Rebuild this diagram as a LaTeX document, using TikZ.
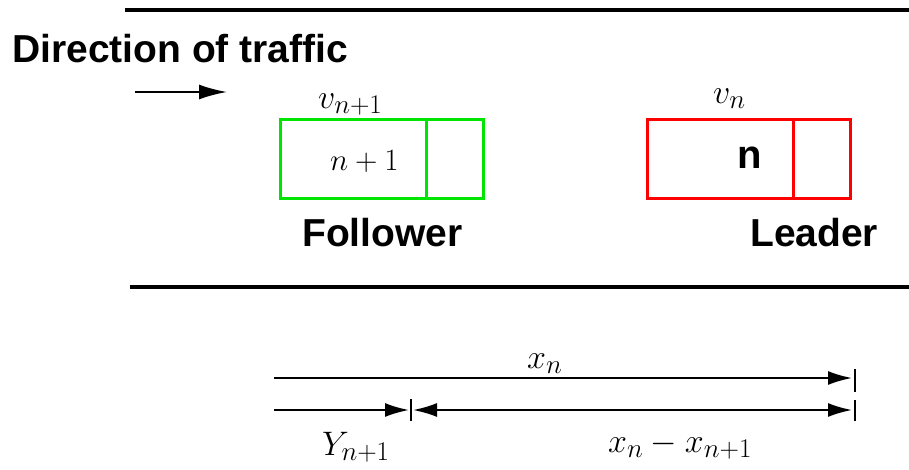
\RequirePackage{fix-cm}
\documentclass[tikz,border=0pt]{standalone}
\usepackage{fontspec}
\setsansfont{Liberation Sans}
\usepackage{tikz}
\usetikzlibrary{arrows.meta,positioning}
% larger scripts for the labels
\DeclareMathSizes{34}{34}{27}{21}
\DeclareMathSizes{31}{31}{25}{19}

\begin{document}
\begin{tikzpicture}[x=1pt, y=-1pt,
  road/.style={line width=4.5pt},
  carbody/.style={draw, line width=3pt, minimum width=146pt, minimum height=79pt, outer sep=0pt},
  carcab/.style={draw, line width=3pt, minimum width=57pt, minimum height=79pt, outer sep=0pt},
  tag/.style={font=\fontsize{39}{46}\selectfont\sffamily\bfseries, inner sep=0pt},
  sym/.style={font=\fontsize{34}{40}\selectfont, inner sep=0pt},
  dim/.style={line width=2pt, -{Latex[length=24pt,width=14pt]}},
  dimtick/.style={line width=1.5pt}
]
\useasboundingbox (0,0) rectangle (909,469);

% road edges
\coordinate (topl) at (125,10);
\coordinate (topr) at (909,10);
\coordinate (botl) at (130,287);
\coordinate (botr) at (909,287);
\draw[road] (topl) -- (topr);
\draw[road, line width=4pt] (botl) -- (botr);

\node[tag, anchor=base west] (dir) at (12,62) {Direction of traffic};
\coordinate (dirs) at (135,92);
\coordinate (dire) at (227,92);
\draw[line width=2pt, -{Latex[length=28pt,width=15pt]}] (dirs) -- (dire);

% follower car
\node[carbody, draw=green!90!black] (fbody) at (353,158.5) {};
\node[carcab, draw=green!90!black, right=0pt of fbody] (fcab) {};
\node[sym, font=\fontsize{31}{36}\selectfont, anchor=base west] (fnum) at (330,170) {$n+1$};
\node[sym, anchor=base west] (fvel) at (318,108) {$v_{n+1}$};
\node[tag, anchor=base west] (ftag) at (302,246) {Follower};

% leader car
\node[carbody, draw=red] (lbody) at (720.5,158.5) {};
\node[carcab, draw=red, right=0pt of lbody] (lcab) {};
\node[tag, font=\fontsize{40}{46}\selectfont\sffamily\bfseries, anchor=base west] (lnum) at (737,168) {n};
\node[sym, anchor=base west] (lvel) at (713,103) {$v_n$};
\node[tag, anchor=base west] (ltag) at (750,246) {Leader};

% spacing measures
\coordinate (xs) at (274,378);
\coordinate (xe) at (852,378);
\coordinate (ys) at (274,410);
\coordinate (ye) at (409,410);
\coordinate (gs) at (413,410);
\coordinate (ge) at (852,410);
\draw[dim] (xs) -- (xe);
\draw[dim] (ys) -- (ye);
\draw[dim, {Latex[length=24pt,width=14pt]}-{Latex[length=24pt,width=14pt]}] (gs) -- (ge);

\coordinate (t1a) at (855,369);
\coordinate (t1b) at (855,392);
\coordinate (t2a) at (855,400);
\coordinate (t2b) at (855,421);
\coordinate (t3a) at (411,399);
\coordinate (t3b) at (411,421);
\draw[dimtick] (t1a) -- (t1b);
\draw[dimtick] (t2a) -- (t2b);
\draw[dimtick] (t3a) -- (t3b);

\node[sym, anchor=base west] (xlab) at (527,368) {$x_n$};
\node[sym, anchor=base west] (ylab) at (322,455) {$Y_{n+1}$};
\node[sym, anchor=base west] (glab) at (608,452) {$x_n - x_{n+1}$};
\end{tikzpicture}
\end{document}
